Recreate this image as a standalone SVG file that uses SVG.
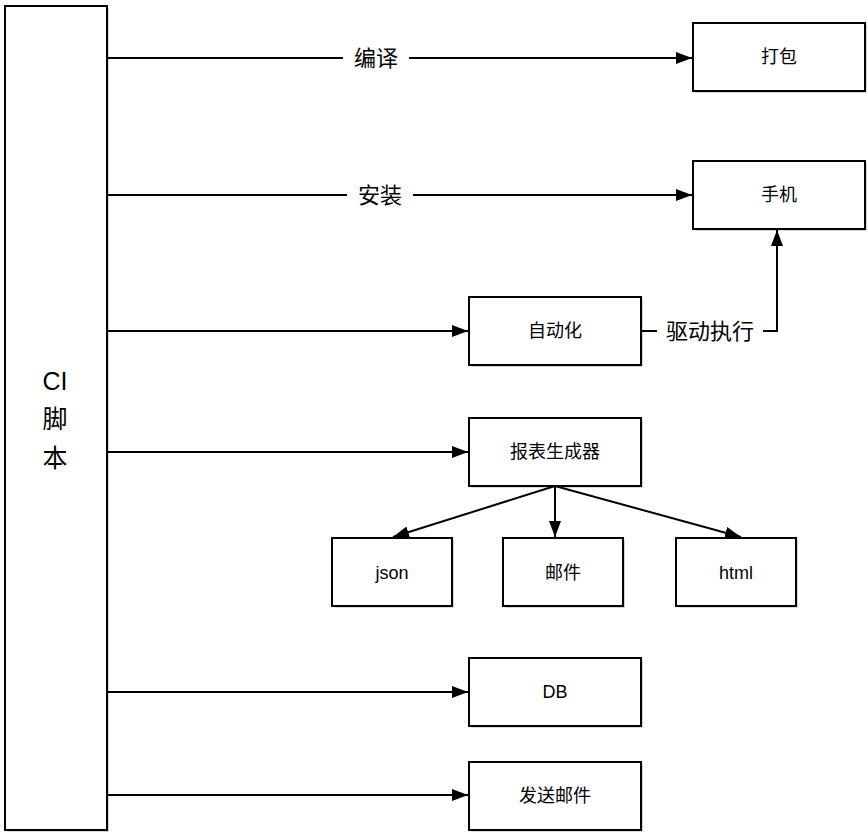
<svg xmlns="http://www.w3.org/2000/svg" width="868" height="834" viewBox="0 0 868 834">
<defs>
<style>
.box{fill:#fff;stroke:#000;stroke-width:2}
.sh{fill:#bbb;stroke:none;opacity:0.6}
.t{font-family:"Liberation Sans","Noto Sans CJK SC",sans-serif;font-size:18px;fill:#000;text-anchor:middle;dominant-baseline:central}
.lbl{font-family:"Liberation Sans","Noto Sans CJK SC",sans-serif;font-size:22px;fill:#000;text-anchor:middle;dominant-baseline:central}
.big{font-family:"Liberation Sans","Noto Sans CJK SC",sans-serif;font-size:25px;fill:#000;text-anchor:middle;dominant-baseline:central}
.c{fill:none;stroke:#000;stroke-width:2}
</style>
<marker id="ah" viewBox="0 0 16 12" refX="16" refY="6" markerWidth="16" markerHeight="12" markerUnits="userSpaceOnUse" orient="auto">
<path d="M0,0 L16,6 L0,12 Z" fill="#000"/>
</marker>
</defs>
<rect width="868" height="834" fill="#fff"/>
<g id="ci">
<rect class="sh" x="7" y="8" width="102" height="824"/>
<rect class="box" x="5" y="6" width="102" height="824"/>
<text class="big" x="55" y="381">CI</text>
<text class="big" x="55" y="419">脚</text>
<text class="big" x="55" y="458">本</text>
</g>
<g id="dabao">
<rect class="sh" x="695" y="25" width="172" height="68"/>
<rect class="box" x="693" y="23" width="172" height="68"/>
<text class="t" x="779" y="57">打包</text>
</g>
<g id="shouji">
<rect class="sh" x="695" y="163" width="172" height="68"/>
<rect class="box" x="693" y="161" width="172" height="68"/>
<text class="t" x="779" y="195">手机</text>
</g>
<g id="zidonghua">
<rect class="sh" x="471" y="299" width="172" height="68"/>
<rect class="box" x="469" y="297" width="172" height="68"/>
<text class="t" x="555" y="331">自动化</text>
</g>
<g id="baobiao">
<rect class="sh" x="471" y="420" width="172" height="68"/>
<rect class="box" x="469" y="418" width="172" height="68"/>
<text class="t" x="555" y="452">报表生成器</text>
</g>
<g id="json">
<rect class="sh" x="334" y="540" width="120" height="68"/>
<rect class="box" x="332" y="538" width="120" height="68"/>
<text class="t" x="392" y="573">json</text>
</g>
<g id="youjian">
<rect class="sh" x="505" y="540" width="120" height="68"/>
<rect class="box" x="503" y="538" width="120" height="68"/>
<text class="t" x="563" y="573">邮件</text>
</g>
<g id="html">
<rect class="sh" x="678" y="540" width="120" height="68"/>
<rect class="box" x="676" y="538" width="120" height="68"/>
<text class="t" x="736" y="573">html</text>
</g>
<g id="db">
<rect class="sh" x="471" y="660" width="172" height="68"/>
<rect class="box" x="469" y="658" width="172" height="68"/>
<text class="t" x="555" y="692">DB</text>
</g>
<g id="fasong">
<rect class="sh" x="471" y="764" width="172" height="68"/>
<rect class="box" x="469" y="762" width="172" height="68"/>
<text class="t" x="555" y="796">发送邮件</text>
</g>
<g id="connectors">
<path class="c" d="M107,58 H343"/>
<path class="c" d="M409,58 H692" marker-end="url(#ah)"/>
<text class="lbl" x="376" y="58">编译</text>
<path class="c" d="M107,195 H347"/>
<path class="c" d="M413,195 H692" marker-end="url(#ah)"/>
<text class="lbl" x="380" y="195">安装</text>
<path class="c" d="M107,331 H468" marker-end="url(#ah)"/>
<path class="c" d="M641,331 H657"/>
<path class="c" d="M763,331 H777 V230" marker-end="url(#ah)"/>
<text class="lbl" x="710" y="331">驱动执行</text>
<path class="c" d="M107,452 H468" marker-end="url(#ah)"/>
<path class="c" d="M555,486 L393,537" marker-end="url(#ah)"/>
<path class="c" d="M555,486 V537" marker-end="url(#ah)"/>
<path class="c" d="M555,486 L741,537" marker-end="url(#ah)"/>
<path class="c" d="M107,692 H468" marker-end="url(#ah)"/>
<path class="c" d="M107,795 H468" marker-end="url(#ah)"/>
</g>
</svg>
